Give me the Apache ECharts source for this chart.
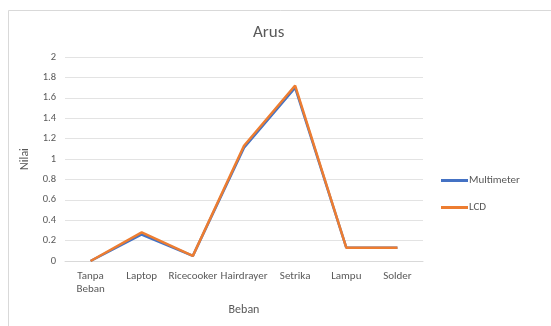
<!DOCTYPE html>
<html>
<head>
<meta charset="utf-8">
<script src="https://cdn.jsdelivr.net/npm/echarts@6/dist/echarts.min.js"></script>
<style>
  html, body { margin: 0; padding: 0; background: #fff; }
  #chart { width: 551px; height: 326px; }
</style>
</head>
<body>
<div id="chart"></div>
<script>
// Current readings per load, measured by multimeter and by the LCD display
const categories = ['Tanpa\nBeban', 'Laptop', 'Ricecooker', 'Hairdrayer', 'Setrika', 'Lampu', 'Solder'];
const multimeter = [0, 0.26, 0.05, 1.11, 1.70, 0.13, 0.13];
const lcd = [0, 0.28, 0.05, 1.13, 1.72, 0.13, 0.13];
const yTicks = [0, 0.2, 0.4, 0.6, 0.8, 1, 1.2, 1.4, 1.6, 1.8, 2];

const textColor = '#595959';
const font = 'Calibri, "Liberation Sans", "Open Sans", sans-serif';

const chart = echarts.init(document.getElementById('chart'), null, { renderer: 'canvas' });
chart.setOption({
  animation: false,
  backgroundColor: '#fff',
  graphic: [{
    type: 'rect',
    shape: { x: 8.5, y: 10.5, width: 560, height: 330 },
    style: { fill: 'none', stroke: '#d9d9d9', lineWidth: 1 },
    silent: true
  }],
  title: {
    text: 'Arus',
    left: 248, top: 19,
    textStyle: { color: textColor, fontSize: 17, fontWeight: 'normal', fontFamily: font }
  },
  legend: {
    orient: 'vertical',
    left: 436, top: 170,
    itemWidth: 27, itemHeight: 3, itemGap: 16,
    icon: 'rect',
    textStyle: { color: textColor, fontSize: 11, fontFamily: font, padding: [0, 0, 0, -4] },
    data: ['Multimeter', 'LCD']
  },
  grid: { left: 65, right: 128, top: 57, bottom: 65, containLabel: false },
  xAxis: {
    type: 'category',
    data: categories,
    boundaryGap: true,
    name: 'Beban',
    nameLocation: 'middle',
    nameGap: 43,
    nameMoveOverlap: false,
    nameTextStyle: { color: textColor, fontSize: 12, fontFamily: font },
    axisLine: { lineStyle: { color: '#d9d9d9' } },
    axisTick: { show: false },
    axisLabel: { color: textColor, fontSize: 11, fontFamily: font, margin: 9, interval: 0, lineHeight: 13, verticalAlign: 'top' }
  },
  yAxis: {
    type: 'value',
    min: 0, max: 2, interval: 0.2,
    name: 'Nilai',
    nameLocation: 'middle',
    nameGap: 34,
    nameMoveOverlap: false,
    nameRotate: 90,
    nameTextStyle: { color: textColor, fontSize: 12, fontFamily: font },
    axisLine: { show: false },
    axisTick: { show: false },
    splitLine: { lineStyle: { color: '#e3e3e3' } },
    axisLabel: {
      color: textColor, fontSize: 10.5, fontFamily: font, margin: 9,
      formatter: v => {
        const t = yTicks.find(x => Math.abs(x - v) < 1e-9);
        return t === undefined ? '' : String(t);
      }
    }
  },
  series: [
    {
      name: 'Multimeter', type: 'line', data: multimeter,
      symbol: 'none', color: '#4472C4',
      lineStyle: { width: 2.5, color: '#4472C4' }
    },
    {
      name: 'LCD', type: 'line', data: lcd,
      symbol: 'none', color: '#ED7D31',
      lineStyle: { width: 2.5, color: '#ED7D31' }
    }
  ]
});
</script>
</body>
</html>
